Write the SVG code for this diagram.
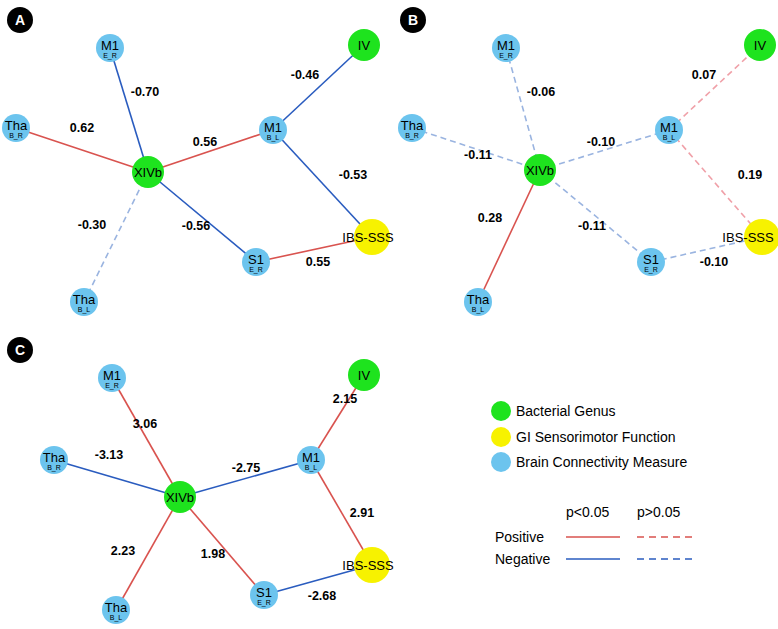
<svg xmlns="http://www.w3.org/2000/svg" width="778" height="629" viewBox="0 0 778 629">
<style>
text{font-family:"Liberation Sans",Arial,sans-serif;fill:#000}
.lbl{font-size:12.5px;font-weight:bold;text-anchor:middle}
.nm{font-size:13px;text-anchor:middle}
.sub{font-size:7px;text-anchor:middle}
.big{font-size:13px;text-anchor:middle}
.pos{stroke:#d9534f;stroke-width:1.6;fill:none}
.neg{stroke:#2a5cbf;stroke-width:1.6;fill:none}
.posd{stroke:#f0a0a8;stroke-width:1.6;fill:none;stroke-dasharray:6,4}
.negd{stroke:#9ab4e0;stroke-width:1.6;fill:none;stroke-dasharray:6,4}
.b{fill:#6cc4ee}.g{fill:#1ee31e}.y{fill:#f7f200}
.tag{fill:#000}.tagt{fill:#fff;font-size:14px;font-weight:bold;text-anchor:middle}
.leg{font-size:14px}
</style>
<g id="connectors">
<line class="neg" x1="110" y1="48" x2="148" y2="172"/>
<line class="pos" x1="16" y1="128" x2="148" y2="172"/>
<line class="pos" x1="148" y1="172" x2="273" y2="130"/>
<line class="neg" x1="273" y1="130" x2="364" y2="45"/>
<line class="neg" x1="273" y1="130" x2="372" y2="237"/>
<line class="neg" x1="148" y1="172" x2="256" y2="262"/>
<line class="pos" x1="256" y1="262" x2="372" y2="237"/>
<line class="negd" x1="148" y1="172" x2="84" y2="302"/>
<line class="negd" x1="506" y1="48" x2="540" y2="170"/>
<line class="negd" x1="412" y1="128" x2="540" y2="170"/>
<line class="negd" x1="540" y1="170" x2="669" y2="130"/>
<line class="posd" x1="669" y1="130" x2="760" y2="45"/>
<line class="posd" x1="669" y1="130" x2="762" y2="237"/>
<line class="negd" x1="540" y1="170" x2="651" y2="262"/>
<line class="negd" x1="651" y1="262" x2="762" y2="237"/>
<line class="pos" x1="540" y1="170" x2="478" y2="302"/>
<line class="pos" x1="112" y1="378" x2="180" y2="497"/>
<line class="neg" x1="54" y1="460" x2="180" y2="497"/>
<line class="neg" x1="180" y1="497" x2="311" y2="460"/>
<line class="pos" x1="311" y1="460" x2="364" y2="375"/>
<line class="pos" x1="311" y1="460" x2="372" y2="565"/>
<line class="pos" x1="180" y1="497" x2="264" y2="595"/>
<line class="neg" x1="264" y1="595" x2="372" y2="565"/>
<line class="pos" x1="180" y1="497" x2="116" y2="610"/>
<line class="pos" x1="566" y1="537" x2="620" y2="537"/>
<line class="pos" x1="637" y1="537" x2="692" y2="537" stroke-dasharray="7,5"/>
<line class="neg" x1="566" y1="559" x2="620" y2="559"/>
<line class="neg" x1="637" y1="559" x2="692" y2="559" stroke-dasharray="7,5"/>
</g>
<g id="edge-labels">
<text class="lbl" x="145" y="96">-0.70</text>
<text class="lbl" x="82" y="132">0.62</text>
<text class="lbl" x="205" y="146">0.56</text>
<text class="lbl" x="305" y="79">-0.46</text>
<text class="lbl" x="353" y="179">-0.53</text>
<text class="lbl" x="196" y="230">-0.56</text>
<text class="lbl" x="318" y="266">0.55</text>
<text class="lbl" x="92" y="229">-0.30</text>
<text class="lbl" x="541" y="96">-0.06</text>
<text class="lbl" x="478" y="159">-0.11</text>
<text class="lbl" x="601" y="146">-0.10</text>
<text class="lbl" x="704" y="79">0.07</text>
<text class="lbl" x="750" y="179">0.19</text>
<text class="lbl" x="592" y="230">-0.11</text>
<text class="lbl" x="714" y="266">-0.10</text>
<text class="lbl" x="490" y="222">0.28</text>
<text class="lbl" x="145" y="428">3.06</text>
<text class="lbl" x="109" y="459">-3.13</text>
<text class="lbl" x="246" y="472">-2.75</text>
<text class="lbl" x="345" y="403">2.15</text>
<text class="lbl" x="362" y="517">2.91</text>
<text class="lbl" x="213" y="558">1.98</text>
<text class="lbl" x="322" y="600">-2.68</text>
<text class="lbl" x="123" y="555">2.23</text>
</g>
<g id="panel-tags">
<circle class="tag" cx="20" cy="20" r="13"/><text class="tagt" x="20" y="25">A</text>
<circle class="tag" cx="413" cy="20" r="13"/><text class="tagt" x="413" y="25">B</text>
<circle class="tag" cx="20" cy="350" r="13"/><text class="tagt" x="20" y="355">C</text>
</g>
<g id="A-M1ER"><circle class="b" cx="110" cy="48" r="14"/><text class="nm" x="110" y="50">M1</text><text class="sub" x="110" y="58">E_R</text></g>
<g id="A-IV"><circle class="g" cx="364" cy="45" r="16"/><text class="big" x="364" y="50">IV</text></g>
<g id="A-M1BL"><circle class="b" cx="273" cy="130" r="14"/><text class="nm" x="273" y="132">M1</text><text class="sub" x="273" y="140">B_L</text></g>
<g id="A-ThaBR"><circle class="b" cx="16" cy="128" r="14"/><text class="nm" x="16" y="130">Tha</text><text class="sub" x="16" y="138">B_R</text></g>
<g id="A-XIVb"><circle class="g" cx="148" cy="172" r="16"/><text class="big" x="148" y="177">XIVb</text></g>
<g id="A-IBS"><circle class="y" cx="372" cy="237" r="18"/><text class="big" x="368" y="242">IBS-SSS</text></g>
<g id="A-S1ER"><circle class="b" cx="256" cy="262" r="14"/><text class="nm" x="256" y="264">S1</text><text class="sub" x="256" y="272">E_R</text></g>
<g id="A-ThaBL"><circle class="b" cx="84" cy="302" r="14"/><text class="nm" x="84" y="304">Tha</text><text class="sub" x="84" y="312">B_L</text></g>
<g id="B-M1ER"><circle class="b" cx="506" cy="48" r="14"/><text class="nm" x="506" y="50">M1</text><text class="sub" x="506" y="58">E_R</text></g>
<g id="B-IV"><circle class="g" cx="760" cy="45" r="16"/><text class="big" x="760" y="50">IV</text></g>
<g id="B-M1BL"><circle class="b" cx="669" cy="130" r="14"/><text class="nm" x="669" y="132">M1</text><text class="sub" x="669" y="140">B_L</text></g>
<g id="B-ThaBR"><circle class="b" cx="412" cy="128" r="14"/><text class="nm" x="412" y="130">Tha</text><text class="sub" x="412" y="138">B_R</text></g>
<g id="B-XIVb"><circle class="g" cx="540" cy="170" r="16"/><text class="big" x="540" y="175">XIVb</text></g>
<g id="B-IBS"><circle class="y" cx="762" cy="237" r="18"/><text class="big" x="748" y="242">IBS-SSS</text></g>
<g id="B-S1ER"><circle class="b" cx="651" cy="262" r="14"/><text class="nm" x="651" y="264">S1</text><text class="sub" x="651" y="272">E_R</text></g>
<g id="B-ThaBL"><circle class="b" cx="478" cy="302" r="14"/><text class="nm" x="478" y="304">Tha</text><text class="sub" x="478" y="312">B_L</text></g>
<g id="C-M1ER"><circle class="b" cx="112" cy="378" r="14"/><text class="nm" x="112" y="380">M1</text><text class="sub" x="112" y="388">E_R</text></g>
<g id="C-IV"><circle class="g" cx="364" cy="375" r="16"/><text class="big" x="364" y="380">IV</text></g>
<g id="C-M1BL"><circle class="b" cx="311" cy="460" r="14"/><text class="nm" x="311" y="462">M1</text><text class="sub" x="311" y="470">B_L</text></g>
<g id="C-ThaBR"><circle class="b" cx="54" cy="460" r="14"/><text class="nm" x="54" y="462">Tha</text><text class="sub" x="54" y="470">B_R</text></g>
<g id="C-XIVb"><circle class="g" cx="180" cy="497" r="16"/><text class="big" x="180" y="502">XIVb</text></g>
<g id="C-IBS"><circle class="y" cx="372" cy="565" r="18"/><text class="big" x="368" y="570">IBS-SSS</text></g>
<g id="C-S1ER"><circle class="b" cx="264" cy="595" r="14"/><text class="nm" x="264" y="597">S1</text><text class="sub" x="264" y="605">E_R</text></g>
<g id="C-ThaBL"><circle class="b" cx="116" cy="610" r="14"/><text class="nm" x="116" y="612">Tha</text><text class="sub" x="116" y="620">B_L</text></g>
<g id="legend">
<circle class="g" cx="501" cy="411" r="10"/><text class="leg" x="516" y="416">Bacterial Genus</text>
<circle class="y" cx="501" cy="437" r="10"/><text class="leg" x="516" y="442">GI Sensorimotor Function</text>
<circle class="b" cx="501" cy="462" r="10"/><text class="leg" x="516" y="467">Brain Connectivity Measure</text>
<text class="leg" x="566" y="517">p&lt;0.05</text>
<text class="leg" x="637" y="517">p&gt;0.05</text>
<text class="leg" x="495" y="542">Positive</text>
<text class="leg" x="495" y="564">Negative</text>
</g>
</svg>
